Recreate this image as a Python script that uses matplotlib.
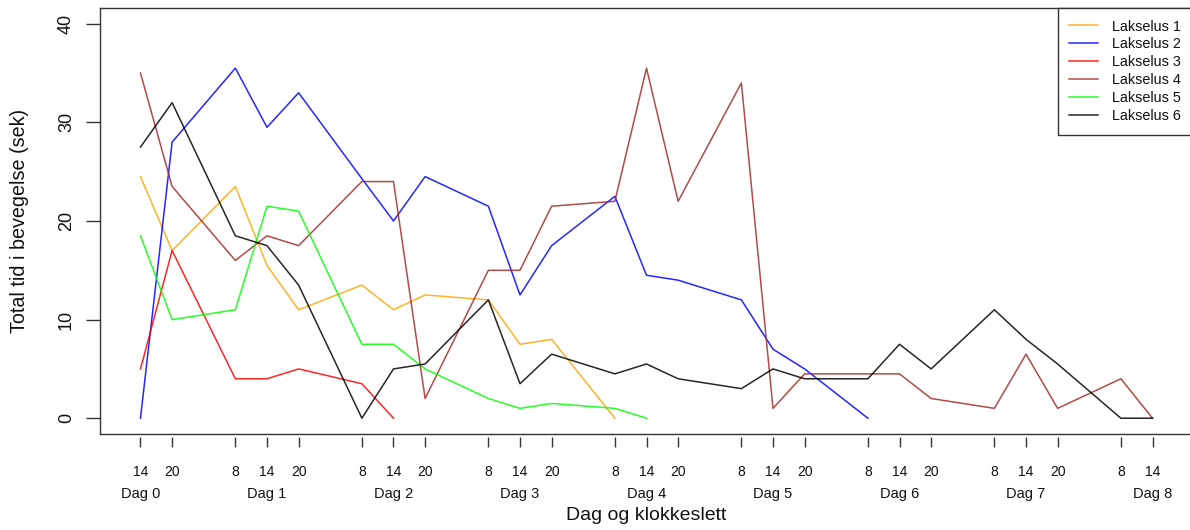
import numpy as np
import matplotlib
matplotlib.use('Agg')
import matplotlib.pyplot as plt

plt.rcParams['font.family'] = ['Liberation Sans', 'DejaVu Sans']

# timepunkt i timer fra dag 0 kl 00
timer = [14, 20, 32, 38, 44, 56, 62, 68, 80, 86, 92, 104, 110, 116,
         128, 134, 140, 152, 158, 164, 176, 182, 188, 200, 206]
klokke = ['14', '20', '8', '14', '20', '8', '14', '20', '8', '14', '20',
          '8', '14', '20', '8', '14', '20', '8', '14', '20', '8', '14', '20',
          '8', '14']
dager = ['Dag 0', 'Dag 1', 'Dag 2', 'Dag 3', 'Dag 4', 'Dag 5', 'Dag 6',
         'Dag 7', 'Dag 8']
dag_timer = [14, 38, 62, 86, 110, 134, 158, 182, 206]

lus1 = [24.5, 17, 23.5, 15.5, 11, 13.5, 11, 12.5, 12, 7.5, 8, 0]
lus2 = [0, 28, 35.5, 29.5, 33, 24.3, 20, 24.5, 21.5, 12.5, 17.5, 22.5,
        14.5, 14, 12, 7, 5, 0]
lus3 = [5, 17, 4, 4, 5, 3.5, 0]
lus4 = [35, 23.5, 16, 18.5, 17.5, 24, 24, 2, 15, 15, 21.5, 22, 35.5, 22,
        34, 1, 4.5, 4.5, 4.5, 2, 1, 6.5, 1, 4, 0]
lus5 = [18.5, 10, 11, 21.5, 21, 7.5, 7.5, 5, 2, 1, 1.5, 1, 0]
lus6 = [27.5, 32, 18.5, 17.5, 13.5, 0, 5, 5.5, 12, 3.5, 6.5, 4.5, 5.5, 4,
        3, 5, 4, 4, 7.5, 5, 11, 8, 5.5, 0, 0]

serier = [lus1, lus2, lus3, lus4, lus5, lus6]
navn = ['Lakselus 1', 'Lakselus 2', 'Lakselus 3', 'Lakselus 4',
        'Lakselus 5', 'Lakselus 6']
farger = ['#FFA500', '#0000FF', '#FF0000', '#A52A2A', '#00FF00', '#000000']

fig = plt.figure(figsize=(11.9, 5.3), dpi=100)
# plotregionen går litt utenfor bildet til høyre (som i originalen)
ax = fig.add_axes([100/1190, 1 - 434/530, 1093/1190, 426/530])

for y, n, c in zip(serier, navn, farger):
    ax.plot(timer[:len(y)], y, c=c, lw=1.1, label=n, alpha=0.85)

ax.set_xlim(6.32, 213.68)
ax.set_ylim(-1.6, 41.6)

for s in ax.spines.values():
    s.set_color('#333333')
    s.set_linewidth(1.0)

# x-aksen litt under boksen, som i R
ax.spines['bottom'].set_position(('outward', 2))
ax.spines['bottom'].set_visible(False)
ax.plot([0, 1], [0, 0], transform=ax.transAxes, c='#333333', lw=1.0,
        clip_on=False)

ax.set_xticks(timer)
ax.set_xticklabels(klokke, fontsize=10, color='#111111')
ax.tick_params(axis='x', length=7.5, width=1.0, color='#333333', pad=13)

ax.set_yticks([0, 10, 20, 30, 40])
ax.set_yticklabels(['0', '10', '20', '30', '40'], rotation=90,
                   va='center', fontsize=13, color='#111111')
ax.tick_params(axis='y', length=10, width=1.0, color='#333333', pad=8)

for t, d in zip(dag_timer, dager):
    ax.text(t, -0.1408, d, transform=ax.get_xaxis_transform(),
            ha='center', va='center', fontsize=10.5, color='#111111')

ax.set_xlabel('Dag og klokkeslett', fontsize=14, color='#111111')
ax.xaxis.set_label_coords(0.5, (434 - 507)/426)
ax.set_ylabel('Total tid i bevegelse (sek)', fontsize=14.2, color='#111111')
ax.yaxis.set_label_coords((29 - 100)/1093, 0.5)

leg = ax.legend(loc='upper right', borderaxespad=0, fancybox=False,
                framealpha=1, edgecolor='#333333', fontsize=10.4,
                handlelength=2.0, labelspacing=0.27, borderpad=0.8,
                handletextpad=1.0)
leg.get_frame().set_linewidth(1.0)
for t in leg.get_texts():
    t.set_color('#111111')

fig.savefig('out.png', dpi=100)
